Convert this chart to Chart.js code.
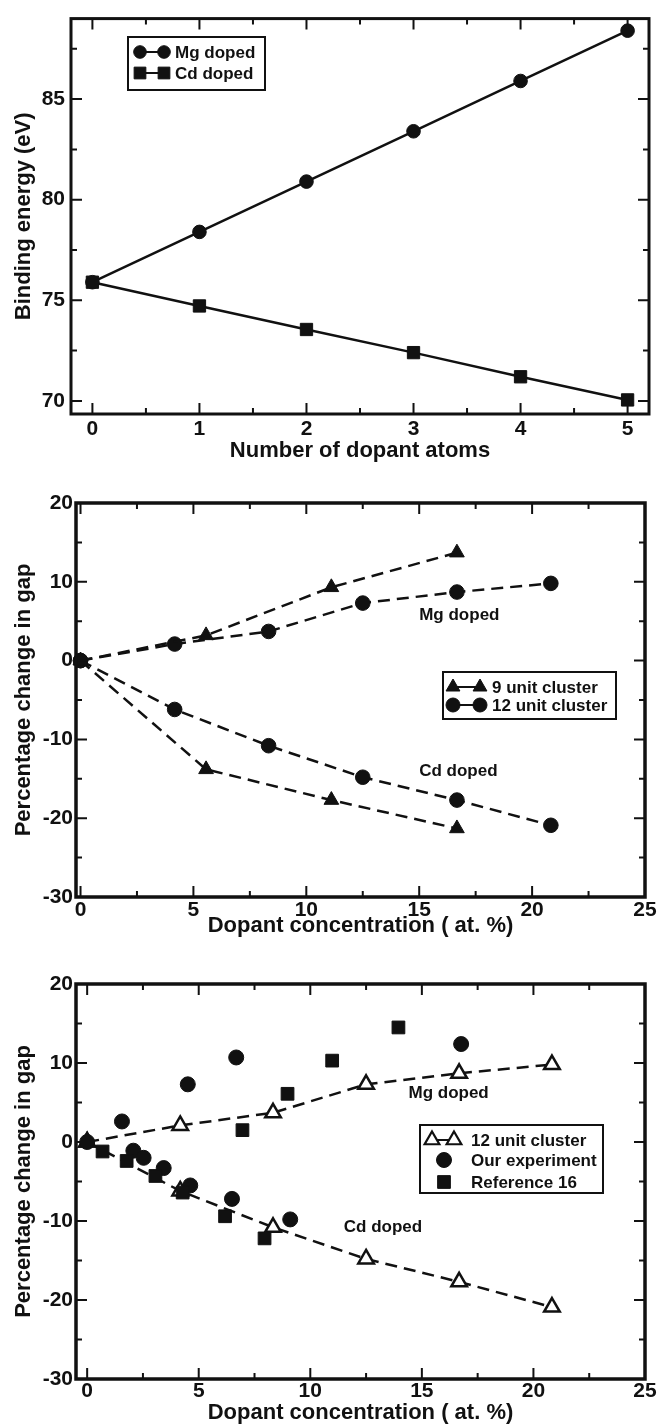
<!DOCTYPE html>
<html>
<head>
<meta charset="utf-8">
<script src="https://cdn.jsdelivr.net/npm/chart.js@4.4.1/dist/chart.umd.min.js"></script>
<style>
  html, body { margin: 0; padding: 0; background: #fff; }
  canvas { position: absolute; left: 0; }
</style>
</head>
<body>
<canvas id="c1" width="662" height="470" style="top:0px"></canvas>
<canvas id="c2" width="662" height="480" style="top:470px"></canvas>
<canvas id="c3" width="662" height="476" style="top:950px"></canvas>
<script>
// --- panel 1: binding energy vs number of dopant atoms ---
const atoms = [0, 1, 2, 3, 4, 5];
const mgBinding = [75.9, 78.4, 80.9, 83.4, 85.9, 88.4];
const cdBinding = [75.9, 74.72, 73.55, 72.4, 71.2, 70.05];
const atomTicks = [0, 1, 2, 3, 4, 5];
const atomMinor = [0.5, 1.5, 2.5, 3.5, 4.5];
const energyTicks = [70, 75, 80, 85];
const energyMinor = [72.5, 77.5, 82.5, 87.5];

// --- panel 2: gap change, 9 and 12 unit clusters ---
const conc9 = [0, 5.56, 11.11, 16.67];
const mgGap9 = [0, 3.2, 9.3, 13.7];
const cdGap9 = [0, -13.8, -17.7, -21.3];
const conc12 = [0, 4.17, 8.33, 12.5, 16.67, 20.83];
const mgGap12 = [0, 2.1, 3.7, 7.3, 8.7, 9.8];
const cdGap12 = [0, -6.2, -10.8, -14.8, -17.7, -20.9];

// --- panel 3: theory vs experiment ---
const expMgConc = [0, 1.56, 4.51, 6.68, 16.76];
const expMgGap = [0, 2.6, 7.3, 10.7, 12.4];
const expCdConc = [2.07, 2.53, 3.43, 4.62, 6.49, 9.1];
const expCdGap = [-1.1, -2.0, -3.3, -5.5, -7.2, -9.8];
const refMgConc = [6.96, 8.98, 10.98, 13.95];
const refMgGap = [1.5, 6.1, 10.3, 14.5];
const refCdConc = [0.69, 1.77, 3.06, 4.28, 6.18, 7.95];
const refCdGap = [-1.2, -2.4, -4.3, -6.4, -9.4, -12.2];

const concTicks = [0, 5, 10, 15, 20, 25];
const concMinor = [2.5, 7.5, 12.5, 17.5, 22.5];
const gapTicks = [-30, -20, -10, 0, 10, 20];
const gapMinor = [-25, -15, -5, 5, 15];

const FONT = "'Liberation Sans', Arial, Helvetica, sans-serif";
const INK = '#111';

const pts = (xs, ys) => xs.map((x, i) => ({ x: x, y: ys[i] }));
const bold = size => ({ family: FONT, size: size, weight: 'bold' });

function scaleOpts(o) {
  return {
    type: 'linear', min: o.min, max: o.max,
    grid: { display: false, drawTicks: false },
    border: { display: false },
    afterBuildTicks: s => { s.ticks = o.ticks.map(v => ({ value: v })); },
    afterFit: s => { if (s.isHorizontal()) s.height = o.size; else s.width = o.size; },
    ticks: { font: bold(21), color: INK, padding: o.pad, autoSkip: false, maxRotation: 0 },
    title: { display: true, text: o.title, font: bold(22), color: INK, padding: o.titlePad }
  };
}

// frame + inward ticks on all four sides
function framePlugin(cfg) {
  return {
    id: 'frame',
    afterDraw(chart) {
      const { ctx, chartArea: a, scales: { x, y } } = chart;
      ctx.save();
      ctx.strokeStyle = INK;
      ctx.lineWidth = 2;
      ctx.beginPath();
      const xt = (vals, len) => vals.forEach(v => {
        const px = x.getPixelForValue(v);
        ctx.moveTo(px, a.bottom); ctx.lineTo(px, a.bottom - len);
        ctx.moveTo(px, a.top); ctx.lineTo(px, a.top + len);
      });
      const yt = (vals, len) => vals.forEach(v => {
        const py = y.getPixelForValue(v);
        ctx.moveTo(a.left, py); ctx.lineTo(a.left + len, py);
        ctx.moveTo(a.right, py); ctx.lineTo(a.right - len, py);
      });
      xt(cfg.xMajor, 11); xt(cfg.xMinor, 6);
      yt(cfg.yMajor, 11); yt(cfg.yMinor, 6);
      ctx.stroke();
      ctx.lineWidth = cfg.frameWidth;
      ctx.strokeRect(a.left, a.top, a.right - a.left, a.bottom - a.top);
      ctx.restore();
    }
  };
}

function marker(ctx, style, x, y, r, fill) {
  ctx.beginPath();
  if (style === 'circle') {
    ctx.arc(x, y, r, 0, Math.PI * 2);
  } else if (style === 'rect') {
    const s = r * Math.SQRT1_2;
    ctx.rect(x - s, y - s, 2 * s, 2 * s);
  } else {
    for (let k = 0; k < 3; k++) {
      const ang = k * 2 * Math.PI / 3;
      const px = x + Math.sin(ang) * r, py = y - Math.cos(ang) * r;
      if (k) ctx.lineTo(px, py); else ctx.moveTo(px, py);
    }
    ctx.closePath();
  }
  ctx.fillStyle = fill;
  ctx.fill();
  ctx.stroke();
}

// boxed legend and the "Mg doped"/"Cd doped" notes
function overlayPlugin(cfg) {
  return {
    id: 'overlay',
    afterDraw(chart) {
      const { ctx, scales: { x, y } } = chart;
      ctx.save();
      const b = cfg.box;
      ctx.fillStyle = '#fff';
      ctx.fillRect(b[0], b[1], b[2], b[3]);
      ctx.strokeStyle = INK;
      ctx.lineWidth = 2;
      ctx.strokeRect(b[0], b[1], b[2], b[3]);
      ctx.font = 'bold 17px ' + FONT;
      ctx.textBaseline = 'middle';
      cfg.rows.forEach(row => {
        ctx.strokeStyle = INK;
        ctx.lineWidth = row.width || 1;
        if (row.pair) {
          ctx.lineWidth = 2;
          ctx.beginPath();
          ctx.moveTo(row.sx[0], row.y); ctx.lineTo(row.sx[1], row.y);
          ctx.stroke();
          ctx.lineWidth = row.width || 1;
          row.sx.forEach(sx => marker(ctx, row.style, sx, row.y, row.r, row.fill));
        } else {
          marker(ctx, row.style, row.sx[0], row.y, row.r, row.fill);
        }
        ctx.fillStyle = INK;
        ctx.textAlign = 'left';
        ctx.fillText(row.label, cfg.textX, row.y + 1);
      });
      (cfg.notes || []).forEach(n => {
        ctx.fillStyle = INK;
        ctx.fillText(n.text, x.getPixelForValue(n.x), y.getPixelForValue(n.y));
      });
      ctx.restore();
    }
  };
}

function baseOptions(pad, xs, ys) {
  return {
    responsive: false, animation: false, events: [], devicePixelRatio: 1,
    layout: { padding: pad },
    plugins: { legend: { display: false }, tooltip: { enabled: false } },
    scales: { x: xs, y: ys }
  };
}

function series(data, style, r, extra) {
  return Object.assign({
    data: data, showLine: false, clip: false,
    pointStyle: style, pointRadius: r,
    pointBackgroundColor: INK, pointBorderColor: INK, pointBorderWidth: 1,
    borderColor: INK, borderWidth: 2.5
  }, extra || {});
}

// --- chart 1 ---
new Chart(document.getElementById('c1'), {
  type: 'scatter',
  data: {
    datasets: [
      series(pts(atoms, mgBinding), 'circle', 6.8, { showLine: true }),
      series(pts(atoms, cdBinding), 'rect', 8.7, { showLine: true })
    ]
  },
  options: baseOptions({ top: 10, right: 13, left: 0, bottom: 0 },
    scaleOpts({ min: -0.2, max: 5.2, ticks: atomTicks, size: 56, pad: 3,
      title: 'Number of dopant atoms', titlePad: { top: 0, bottom: 6 } }),
    scaleOpts({ min: 69.35, max: 89, ticks: energyTicks, size: 71, pad: 6,
      title: 'Binding energy (eV)', titlePad: { top: 11, bottom: 0 } })),
  plugins: [
    framePlugin({ xMajor: atomTicks, xMinor: atomMinor, yMajor: energyTicks, yMinor: energyMinor, frameWidth: 3 }),
    overlayPlugin({
      box: [128, 37, 137, 53], textX: 175,
      rows: [
        { label: 'Mg doped', style: 'circle', r: 6.3, fill: INK, pair: true, sx: [140, 164], y: 52 },
        { label: 'Cd doped', style: 'rect', r: 8.3, fill: INK, pair: true, sx: [140, 164], y: 73 }
      ]
    })
  ]
});

// --- chart 2 ---
const dash = { showLine: true, borderDash: [12, 7] };
new Chart(document.getElementById('c2'), {
  type: 'scatter',
  data: {
    datasets: [
      series(pts(conc9, mgGap9), 'triangle', 8.5, dash),
      series(pts(conc9, cdGap9), 'triangle', 8.5, dash),
      series(pts(conc12, mgGap12), 'circle', 7.3, dash),
      series(pts(conc12, cdGap12), 'circle', 7.3, dash)
    ]
  },
  options: baseOptions({ top: 33, right: 17, left: 0, bottom: 0 },
    scaleOpts({ min: -0.2, max: 25, ticks: concTicks, size: 53, pad: 1,
      title: 'Dopant concentration ( at. %)', titlePad: { top: 0, bottom: 11 } }),
    scaleOpts({ min: -30, max: 20, ticks: gapTicks, size: 76, pad: 3,
      title: 'Percentage change in gap', titlePad: { top: 11, bottom: 0 } })),
  plugins: [
    framePlugin({ xMajor: concTicks, xMinor: concMinor, yMajor: gapTicks, yMinor: gapMinor, frameWidth: 3.5 }),
    overlayPlugin({
      box: [443, 202, 173, 47], textX: 492,
      rows: [
        { label: '9 unit cluster', style: 'triangle', r: 8, fill: INK, pair: true, sx: [453, 480], y: 217 },
        { label: '12 unit cluster', style: 'circle', r: 7, fill: INK, pair: true, sx: [453, 480], y: 235 }
      ],
      notes: [
        { text: 'Mg doped', x: 15.0, y: 5.7 },
        { text: 'Cd doped', x: 15.0, y: -14.1 }
      ]
    })
  ]
});

// --- chart 3 ---
const hollow = { pointBackgroundColor: '#fff', pointBorderWidth: 2.5 };
new Chart(document.getElementById('c3'), {
  type: 'scatter',
  data: {
    datasets: [
      series(pts(refMgConc, refMgGap), 'rect', 9, { order: 1 }),
      series(pts(refCdConc, refCdGap), 'rect', 9, { order: 1 }),
      series(pts(expMgConc, expMgGap), 'circle', 7.5, { order: 2 }),
      series(pts(expCdConc, expCdGap), 'circle', 7.5, { order: 2 }),
      series(pts(conc12, mgGap12), 'triangle', 9, Object.assign({ order: 3 }, dash, hollow)),
      series(pts(conc12, cdGap12), 'triangle', 9, Object.assign({ order: 3 }, dash, hollow))
    ]
  },
  options: baseOptions({ top: 34, right: 17, left: 0, bottom: 0 },
    scaleOpts({ min: -0.5, max: 25, ticks: concTicks, size: 47, pad: 0,
      title: 'Dopant concentration ( at. %)', titlePad: { top: 0, bottom: 0 } }),
    scaleOpts({ min: -30, max: 20, ticks: gapTicks, size: 76, pad: 3,
      title: 'Percentage change in gap', titlePad: { top: 11, bottom: 0 } })),
  plugins: [
    framePlugin({ xMajor: concTicks, xMinor: concMinor, yMajor: gapTicks, yMinor: gapMinor, frameWidth: 3.5 }),
    overlayPlugin({
      box: [420, 175, 183, 68], textX: 471,
      rows: [
        { label: '12 unit cluster', style: 'triangle', r: 8.5, fill: '#fff', width: 2.2, pair: true, sx: [432, 454], y: 190 },
        { label: 'Our experiment', style: 'circle', r: 7.5, fill: INK, sx: [444], y: 210 },
        { label: 'Reference 16', style: 'rect', r: 9, fill: INK, sx: [444], y: 232 }
      ],
      notes: [
        { text: 'Mg doped', x: 14.4, y: 6.2 },
        { text: 'Cd doped', x: 11.5, y: -10.8 }
      ]
    })
  ]
});
</script>
</body>
</html>
